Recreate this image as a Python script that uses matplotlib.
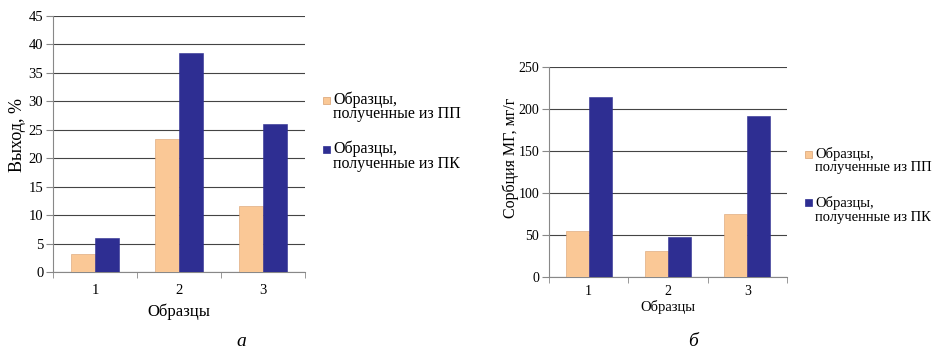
import numpy as np
import matplotlib
matplotlib.use("Agg")
import matplotlib.pyplot as plt
from matplotlib.patches import Rectangle

# data
samples = ["1", "2", "3"]
yield_pp = [3.2, 23.4, 11.6]
yield_pk = [5.9, 38.5, 26.1]
sorb_pp = [55, 31, 75]
sorb_pk = [215, 48, 192]
legend_labels = [("Образцы,", "полученные из ПП"), ("Образцы,", "полученные из ПК")]

c_pp = "#FAC896"
c_pk = "#2E2E92"

plt.rcParams["font.family"] = ["Liberation Serif", "DejaVu Serif"]

fig = plt.figure(figsize=(9.41, 3.53), dpi=100)
ax_a = fig.add_axes([0.0563, 0.2295, 0.2678, 0.7252])
ax_b = fig.add_axes([0.5834, 0.2161, 0.2529, 0.5932])


def draw(ax, pp, pk, ymax, step, ylabel, tsize, xsize, ysize, xpad, xlab_y, ylab_xy):
    x = np.arange(1, len(samples) + 1)
    w = 0.29
    ax.bar(x - w / 2, pp, w, color=c_pp, edgecolor="#d9a070", linewidth=0.4, zorder=3)
    ax.bar(x + w / 2, pk, w, color=c_pk, edgecolor=c_pk, linewidth=0.4, zorder=3)
    ax.set_xlim(0.5, len(samples) + 0.5)
    ax.set_ylim(0, ymax)
    ax.set_yticks(np.arange(0, ymax + 1, step))
    ax.set_xticks(x)
    ax.set_xticklabels(samples)
    ax.set_xticks(np.arange(0.5, len(samples) + 1, 1), minor=True)
    ax.tick_params(axis="x", which="major", length=0, labelsize=tsize, pad=xpad)
    ax.tick_params(axis="x", which="minor", length=4, color="#888888")
    ax.tick_params(axis="y", length=5, color="#888888", labelsize=tsize, pad=2)
    ax.yaxis.grid(True, color="#444444", linewidth=0.8, zorder=0)
    for s in ["top", "right"]:
        ax.spines[s].set_visible(False)
    for s in ["left", "bottom"]:
        ax.spines[s].set_color("#888888")
        ax.spines[s].set_linewidth(0.8)
    ax.set_xlabel("Образцы", fontsize=xsize)
    ax.xaxis.set_label_coords(0.5, xlab_y)
    ax.set_ylabel(ylabel, fontsize=ysize, va="center")
    ax.yaxis.set_label_coords(*ylab_xy)


draw(ax_a, yield_pp, yield_pk, 45, 5, "Выход, %", 10.5, 12, 13, 9, -0.125, (-0.139, 0.535))
draw(ax_b, sorb_pp, sorb_pk, 250, 50, "Сорбция МГ, мг/г", 10, 10.5, 11.5, 6, -0.11, (-0.16, 0.567))


def legend(x0, ys, gap, size):
    W, H = 941.0, 353.0
    for (l1, l2), c, y in zip(legend_labels, [c_pp, c_pk], ys):
        fig.patches.append(Rectangle(((x0 - 4) / W, 1 - (y + 3.5) / H), 7 / W, 7 / H,
                                     transform=fig.transFigure, facecolor=c,
                                     edgecolor="#d9a070" if c == c_pp else c, linewidth=0.5))
        fig.text((x0 + 6) / W, 1 - y / H, l1, fontsize=size, va="center", ha="left")
        fig.text((x0 + 6) / W, 1 - (y + gap) / H, l2, fontsize=size, va="center", ha="left")


legend(327, [100, 149], 14.5, 11.5)
legend(809, [154, 203], 14, 10.5)

fig.text(241 / 941, 1 - 341 / 353, "а", fontsize=14, style="italic", ha="center", va="center")
fig.text(693 / 941, 1 - 341 / 353, "б", fontsize=14, style="italic", ha="center", va="center")

fig.savefig("out.png", dpi=100)
